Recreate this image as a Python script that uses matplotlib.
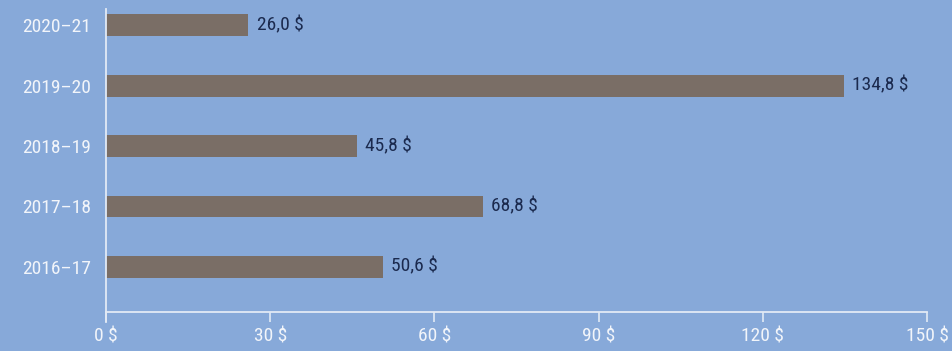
import matplotlib
matplotlib.use("Agg")
import matplotlib.pyplot as plt
from matplotlib import font_manager

# Data
periods = ["2016–17", "2017–18", "2018–19", "2019–20", "2020–21"]
amounts = [50.6, 68.8, 45.8, 134.8, 26.0]
x_ticks = [0, 30, 60, 90, 120, 150]

BG = "#87A9D9"
BAR = "#7A6E66"
LABEL = "#1B2A4E"
AXIS = "#E2EAF5"

available = {f.name for f in font_manager.fontManager.ttflist}
family = next((f for f in ["Roboto Condensed", "Liberation Sans Narrow", "DejaVu Sans"]
               if f in available), "DejaVu Sans")
plt.rcParams["font.family"] = [family, "DejaVu Sans"]
plt.rcParams["font.stretch"] = "condensed"

FS = 14

fig = plt.figure(figsize=(9.53, 3.51), dpi=100, facecolor=BG)
ax = fig.add_axes([106 / 953, 1 - 312 / 351, (927 - 106) / 953, (312 - 9) / 351])
ax.set_facecolor(BG)

pos = list(range(len(periods)))
ax.barh(pos, amounts, height=0.36, color=BAR, zorder=2)

for y, v in zip(pos, amounts):
    ax.annotate(f"{v:.1f} $".replace(".", ","), xy=(v, y), xytext=(6, 0),
                textcoords="offset points", va="center", ha="left",
                fontsize=FS, color=LABEL)

ax.set_xlim(0, 150)
ax.set_ylim(-0.75, 4.27)
ax.set_xticks(x_ticks)
ax.set_xticklabels([f"{t} $" for t in x_ticks])
ax.set_yticks(pos)
ax.set_yticklabels(periods)

for s in ax.spines.values():
    s.set_visible(False)
ax.spines["bottom"].set_visible(True)
ax.spines["bottom"].set_color(AXIS)
ax.spines["bottom"].set_linewidth(1.3)
# left axis line runs down past the bottom axis to the tick length
ax.plot([0, 0], [-0.75 - 10 / 60, 4.27], color=AXIS, lw=1.3, clip_on=False, zorder=3)

ax.tick_params(axis="x", colors=AXIS, length=7, width=1.2, pad=4,
               labelsize=FS, labelcolor="#F2F5FA")
ax.tick_params(axis="y", length=0, pad=11, labelsize=FS, labelcolor="#F2F5FA")

fig.savefig("out.png", dpi=100, facecolor=BG)
